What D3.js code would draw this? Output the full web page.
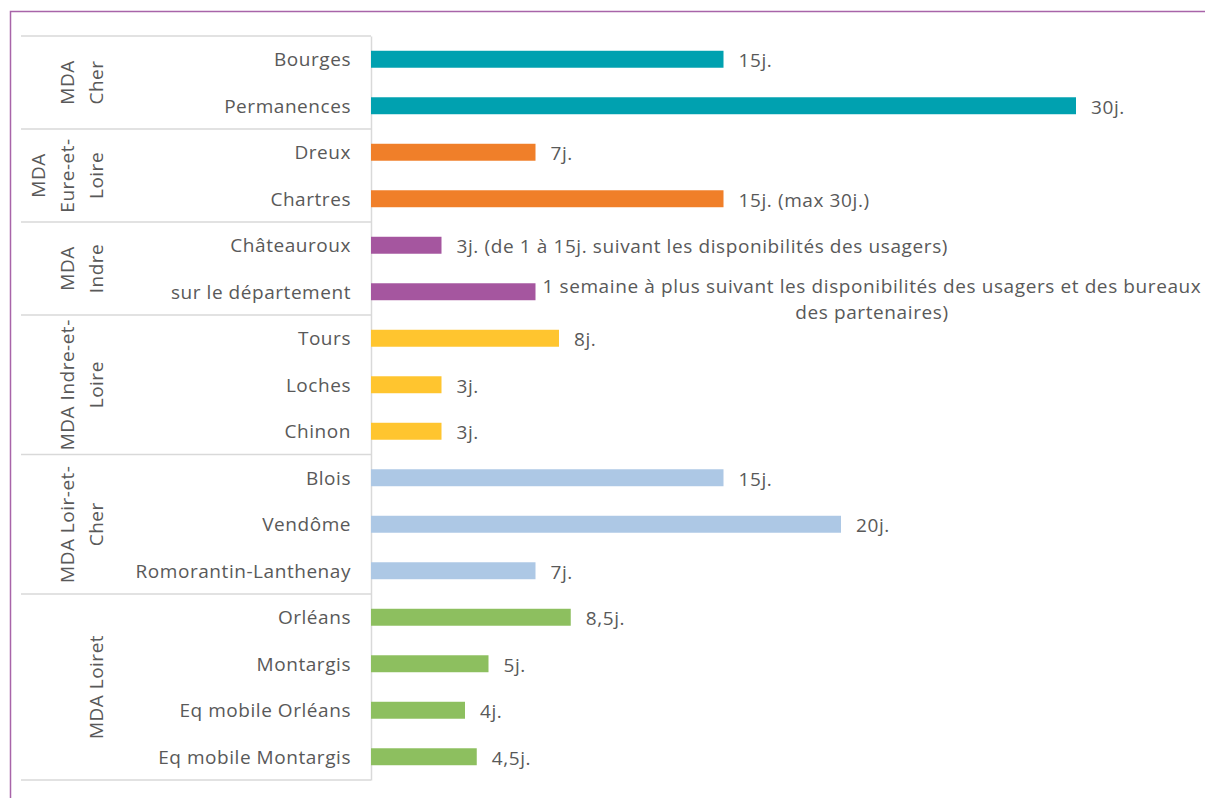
<!DOCTYPE html>
<html>
<head>
<meta charset="utf-8">
<script src="https://cdn.jsdelivr.net/npm/d3@7"></script>
<style>
  body { margin: 0; background: #fff; }
  svg { display: block; }
  text { font-family: "Open Sans", sans-serif; fill: #595959; }
</style>
</head>
<body>
<svg width="1205" height="798"></svg>
<script>
// categories, in display order (top to bottom)
const categories = ["Bourges", "Permanences", "Dreux", "Chartres", "Châteauroux", "sur le département",
  "Tours", "Loches", "Chinon", "Blois", "Vendôme", "Romorantin-Lanthenay",
  "Orléans", "Montargis", "Eq mobile Orléans", "Eq mobile Montargis"];
// delay in days
const values = [15, 30, 7, 15, 3, 7, 8, 3, 3, 15, 20, 7, 8.5, 5, 4, 4.5];
// data labels ("|" = line break)
const valueLabels = ["15j.", "30j.", "7j.", "15j. (max 30j.)",
  "3j. (de 1 à 15j. suivant les disponibilités des usagers)",
  "1 semaine à plus suivant les disponibilités des usagers et des bureaux|des partenaires)",
  "8j.", "3j.", "3j.", "15j.", "20j.", "7j.", "8,5j.", "5j.", "4j.", "4,5j."];
// groups (MDA), wrapped like the original
const groupLines = [["MDA", "Cher"], ["MDA", "Eure-et-", "Loire"], ["MDA", "Indre"],
  ["MDA Indre-et-", "Loire"], ["MDA Loir-et-", "Cher"], ["MDA Loiret"]];
const groupSizes = [2, 2, 2, 3, 3, 4];
const groupColors = ["#00a1b0", "#f07f29", "#a5569f", "#ffc52f", "#adc8e5", "#8dbf5f"];

const svg = d3.select("svg");

// frame
svg.append("rect")
  .attr("x", 10.5).attr("y", 11.5)
  .attr("width", 1300).attr("height", 900)
  .attr("fill", "none").attr("stroke", "#a864a9").attr("stroke-width", 1.5);

const y = d3.scaleBand().domain(categories).range([36, 780])
  .paddingInner(0.635).paddingOuter(0.3175);
const x = d3.scaleLinear().domain([0, 30]).range([371, 1076]);

// group index of each category
const groupOf = [];
groupSizes.forEach((n, g) => { for (let i = 0; i < n; i++) groupOf.push(g); });

// group separators
const bounds = [0];
groupSizes.forEach(n => bounds.push(bounds[bounds.length - 1] + n));
svg.append("g").selectAll("line").data(bounds).enter().append("line")
  .attr("x1", 21).attr("x2", 371)
  .attr("y1", d => y.range()[0] + d * y.step())
  .attr("y2", d => y.range()[0] + d * y.step())
  .attr("stroke", "#d9d9d9").attr("stroke-width", 1.5);

// category axis
const axis = svg.append("g").attr("transform", "translate(371,0)")
  .call(d3.axisLeft(y).tickSize(0).tickPadding(20));
axis.select(".domain").attr("stroke", "#d9d9d9").attr("stroke-width", 1.5);
axis.selectAll("text").attr("font-size", 19).attr("fill", "#595959")
  .style("font-family", "Open Sans").style("letter-spacing", "0.55px").attr("dy", "0.38em");

// group labels (rotated)
groupLines.forEach((lines, g) => {
  const cy = y.range()[0] + (bounds[g] + groupSizes[g] / 2) * y.step();
  lines.forEach((t, i) => {
    const cx = 96 - (lines.length - 1 - i) * 29;
    svg.append("text")
      .attr("transform", `translate(${cx},${cy}) rotate(-90)`)
      .attr("text-anchor", "middle").attr("dy", "0.35em")
      .style("letter-spacing", "0.5px")
      .attr("font-size", 19).text(t);
  });
});

// bars
svg.append("g").selectAll("rect").data(categories).enter().append("rect")
  .attr("x", x(0))
  .attr("y", d => y(d))
  .attr("height", y.bandwidth())
  .attr("width", (d, i) => x(values[i]) - x(0))
  .attr("fill", (d, i) => groupColors[groupOf[i]]);

// value labels
categories.forEach((c, i) => {
  const lines = valueLabels[i].split("|");
  const cy = y(c) + y.bandwidth() / 2;
  const t = svg.append("text").attr("font-size", 19).attr("fill", "#404040")
    .style("letter-spacing", "0.6px");
  if (lines.length === 1) {
    t.attr("x", x(values[i]) + 15).attr("y", cy).attr("dy", "0.42em").text(lines[0]);
  } else {
    const x0 = x(values[i]) + 7;
    const spans = lines.map((l, k) => t.append("tspan").attr("y", cy - 5 + k * 26).attr("dy", "0.35em").text(l));
    const w = d3.max(spans, s => s.node().getComputedTextLength());
    spans.forEach(s => s.attr("x", x0 + w / 2));
    t.attr("text-anchor", "middle");
  }
});
</script>
</body>
</html>
